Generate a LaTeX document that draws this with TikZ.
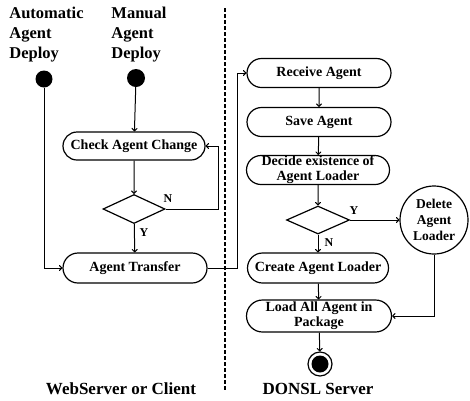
\documentclass[tikz,border=0pt]{standalone}
\usepackage{fontspec}
\setmainfont{Liberation Serif}
\usetikzlibrary{shapes.misc,shapes.geometric,arrows.meta}
\tikzset{
  act/.style={rounded rectangle, draw, line width=1.2pt, minimum height=29pt, inner sep=0pt,
    font=\fontsize{14}{14.5}\selectfont\bfseries, align=center},
  dec/.style={diamond, draw, line width=1.2pt, inner sep=0pt},
  hdr/.style={font=\fontsize{16.5}{20}\selectfont\bfseries, align=left, inner sep=0pt},
  ttl/.style={font=\fontsize{17}{20}\selectfont\bfseries, inner sep=0pt},
  lbl/.style={font=\fontsize{12}{13}\selectfont\bfseries, inner sep=0pt},
  flow/.style={line width=1pt, -{To[length=3.5pt,width=6pt]}},
}
\begin{document}
\begin{tikzpicture}[x=1pt,y=-1pt]
\useasboundingbox (0,0) rectangle (470,400);
% swimlane divider
\coordinate (lt) at (225,8);
\coordinate (lb) at (225,390);
\draw[line width=1.6pt, dash pattern=on 4pt off 2pt] (lt) -- (lb);
% headers
\node[hdr] (hA) at (46.5,35) {Automatic\\Agent\\Deploy};
\node[hdr] (hM) at (139,35) {Manual\\Agent\\Deploy};
\node[circle, fill=black, minimum size=17pt, inner sep=0pt] (sA) at (44,79) {};
\node[circle, fill=black, minimum size=18pt, inner sep=0pt] (sM) at (136,78) {};
% left lane
\node[act, minimum width=142pt, minimum height=28pt] (check) at (134,146) {Check Agent Change};
\node[dec, minimum width=62pt, minimum height=29pt] (d1) at (134,209) {};
\node[act, minimum width=144pt, minimum height=30pt] (transfer) at (135,268) {Agent Transfer};
\node[lbl] (n1) at (168,199) {N};
\node[lbl] (y1) at (144,233) {Y};
% right lane
\node[act, minimum width=144pt] (recv) at (319,73) {Receive Agent};
\node[act, minimum width=144pt] (save) at (319,122) {Save Agent};
\node[act, minimum width=143pt, font=\fontsize{14}{15}\selectfont\bfseries] (decide) at (318,170) {Decide existence of\\Agent Loader};
\node[dec, minimum width=63pt, minimum height=28pt] (d2) at (318,220) {};
\node[circle, draw, line width=1.2pt, minimum size=68pt, inner sep=0pt, align=center,
  font=\fontsize{13.5}{16}\selectfont\bfseries] (del) at (434,220) {Delete\\Agent\\Loader};
\node[act, minimum width=141pt, minimum height=30pt] (create) at (318,268) {Create Agent Loader};
\node[act, minimum width=145pt, minimum height=32pt, font=\fontsize{14}{15}\selectfont\bfseries] (load) at (319,316) {Load All Agent in\\Package};
\node[circle, draw, line width=1.2pt, minimum size=24pt, inner sep=0pt] (endo) at (320,364) {};
\node[circle, fill=black, minimum size=17pt, inner sep=0pt] (endi) at (320,364) {};
\node[lbl] (y2) at (354,211) {Y};
\node[lbl] (n2) at (329,243) {N};
% titles
\node[ttl] (t1) at (121,389) {WebServer or Client};
\node[ttl] (t2) at (318,389) {DONSL Server};
% connectors
\coordinate (fb) at (218,209);
\coordinate (tr) at (237,268);
\draw[flow] (sM) -- (check);
\draw[flow] (check) -- (d1);
\draw[flow] (d1.east) -- (fb) |- (check.east);
\draw[flow] (d1) -- (transfer);
\draw[flow] (sA) |- (transfer.west);
\draw[flow] (transfer.east) -- (tr) |- (recv.west);
\draw[flow] (recv) -- (save);
\draw[flow] (save) -- (decide);
\draw[flow] (decide) -- (d2);
\draw[flow] (d2.east) -- (del.west);
\draw[flow] (d2) -- (create);
\draw[flow] (create) -- (load);
\draw[flow] (del.south) |- (load.east);
\draw[flow] (load) -- (endo);
\end{tikzpicture}
\end{document}
